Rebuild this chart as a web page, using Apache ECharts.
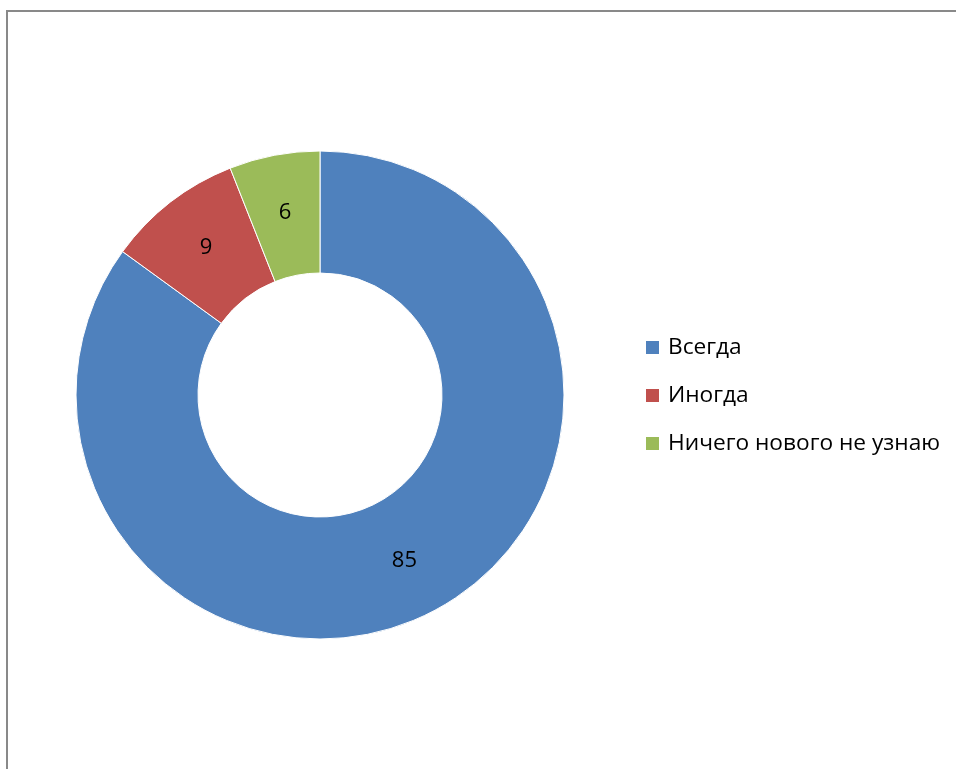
<!DOCTYPE html>
<html>
<head>
<meta charset="utf-8">
<script src="https://cdn.jsdelivr.net/npm/echarts@6/dist/echarts.min.js"></script>
<style>html,body{margin:0;padding:0;background:#fff;}#c{width:956px;height:769px;}</style>
</head>
<body>
<div id="c"></div>
<script>
const categories = ['Всегда', 'Иногда', 'Ничего нового не узнаю'];
const values = [85, 9, 6];
const colors = ['#4F81BD', '#C0504D', '#9BBB59'];

const chart = echarts.init(document.getElementById('c'), null, {renderer: 'canvas'});
chart.setOption({
  animation: false,
  backgroundColor: '#fff',
  color: colors,
  graphic: [{
    type: 'rect',
    shape: {x: 7, y: 11, width: 1000, height: 1000},
    style: {fill: 'none', stroke: '#898989', lineWidth: 2},
    silent: true
  }],
  legend: {
    orient: 'vertical',
    left: 639,
    top: 331,
    itemWidth: 15,
    itemHeight: 15,
    itemGap: 25,
    icon: 'rect',
    data: categories,
    textStyle: {fontFamily: 'Open Sans', fontSize: 22.7, color: '#000', lineHeight: 20, padding: [0, 0, 0, 3]}
  },
  series: [{
    type: 'pie',
    center: [320, 395],
    radius: [122, 244],
    startAngle: 90,
    clockwise: true,
    avoidLabelOverlap: false,
    label: {
      show: true,
      position: 'inside',
      formatter: '{c}',
      fontFamily: 'Open Sans',
      fontSize: 22,
      color: '#000'
    },
    labelLine: {show: false},
    itemStyle: {borderColor: '#fff', borderWidth: 1},
    emphasis: {disabled: true},
    data: categories.map((n, i) => ({name: n, value: values[i]}))
  }]
});
</script>
</body>
</html>
